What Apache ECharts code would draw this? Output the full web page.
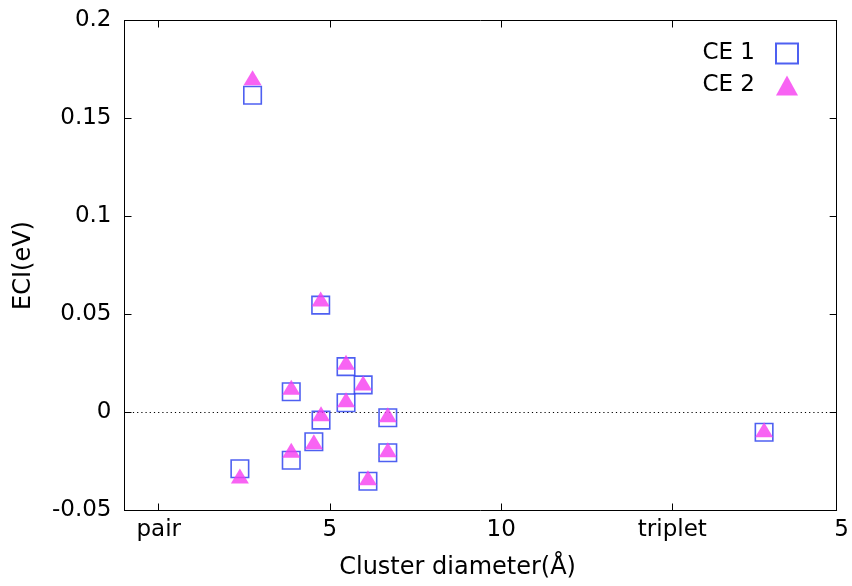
<!DOCTYPE html>
<html>
<head>
<meta charset="utf-8">
<script src="https://cdn.jsdelivr.net/npm/echarts@6/dist/echarts.min.js"></script>
<style>
  html, body { margin: 0; padding: 0; background: #fff; }
  #chart { width: 852px; height: 586px; }
</style>
</head>
<body>
<div id="chart"></div>
<script>
// Effective cluster interactions versus cluster diameter for two cluster expansions
const ce1Points = [
  [2.74, 0.1619], [2.37, -0.0287], [3.87, 0.0106], [3.87, -0.0244],
  [4.73, 0.0548], [4.74, -0.0039], [4.53, -0.0149], [5.47, 0.0234],
  [5.47, 0.0050], [5.97, 0.0141], [6.11, -0.0351], [6.69, -0.0027],
  [6.69, -0.0205], [17.68, -0.0101]
];
const ce2Points = [
  [2.74, 0.1708], [2.37, -0.0324], [3.87, 0.0129], [3.87, -0.0193],
  [4.73, 0.0579], [4.74, -0.0006], [4.53, -0.0149], [5.47, 0.0257],
  [5.47, 0.0065], [5.97, 0.0150], [6.11, -0.0333], [6.69, -0.0011],
  [6.69, -0.0190], [17.68, -0.0088]
];
const seriesNames = ['CE 1', 'CE 2'];
const xTickValues = [0, 5, 10, 15, 20];
const xTickLabels = ['pair', '5', '10', 'triplet', '5'];
const yTickLabels = ['-0.05', '0', '0.05', '0.1', '0.15', '0.2'];

const X_MIN = -1, X_MAX = 19.8;
const Y_MIN = -0.05, Y_MAX = 0.2, Y_STEP = 0.05;

const FONT = '"DejaVu Sans", "Liberation Sans", Arial, sans-serif';
const TICK_FS = 23;
const NAME_FS = 24;
const BLUE = '#2238ee';
const MAGENTA = '#f63cf0';

// label positions clamped into the axis range; the last one sits on the edge
const xLabelPos = xTickValues.map(v => Math.min(v, X_MAX));
const xTickPos = xTickValues.filter(v => v <= X_MAX);

function xLabelFormatter(val) {
  const i = xLabelPos.findIndex(p => Math.abs(p - val) < 1e-9);
  if (i < 0) return '';
  return xTickValues[i] > X_MAX ? '{edge|' + xTickLabels[i] + '}' : xTickLabels[i];
}
function yLabelFormatter(val) {
  const i = Math.round((val - Y_MIN) / Y_STEP);
  return yTickLabels[i] !== undefined ? yTickLabels[i] : '';
}

const chart = echarts.init(document.getElementById('chart'), null, { renderer: 'canvas' });

const option = {
  animation: false,
  backgroundColor: '#fff',
  textStyle: { fontFamily: FONT, color: '#000' },
  grid: { left: 124.5, right: 13, top: 20.5, bottom: 75.5, containLabel: false },
  legend: {
    data: seriesNames,
    orient: 'vertical',
    right: 48,
    top: 37,
    align: 'right',
    itemWidth: 22,
    itemHeight: 20,
    itemGap: 9,
    textStyle: { fontFamily: FONT, fontSize: TICK_FS, color: '#000', padding: [0, 16, 0, 0] }
  },
  xAxis: [
    {
      type: 'value',
      min: X_MIN,
      max: X_MAX,
      position: 'bottom',
      name: 'Cluster diameter(Å)',
      nameLocation: 'middle',
      nameGap: 45,
      nameTextStyle: { fontFamily: FONT, fontSize: NAME_FS, color: '#000', padding: [0, 46, 0, 0] },
      axisLine: { show: true, onZero: false, lineStyle: { color: '#000', width: 1 } },
      axisTick: { show: true, inside: true, length: 7, customValues: xTickPos, lineStyle: { color: '#000' } },
      axisLabel: {
        show: true,
        customValues: xLabelPos,
        formatter: xLabelFormatter,
        margin: 8,
        fontFamily: FONT,
        fontSize: TICK_FS,
        color: '#000',
        showMinLabel: true,
        showMaxLabel: true,
        rich: { edge: { fontFamily: FONT, fontSize: TICK_FS, color: '#000', padding: [0, 0, 0, 10] } }
      },
      splitLine: { show: false }
    },
    {
      type: 'value',
      min: X_MIN,
      max: X_MAX,
      position: 'top',
      axisLine: { show: true, onZero: false, lineStyle: { color: '#000', width: 1 } },
      axisTick: { show: true, inside: true, length: 7, customValues: xTickPos, lineStyle: { color: '#000' } },
      axisLabel: { show: false },
      splitLine: { show: false }
    }
  ],
  yAxis: [
    {
      type: 'value',
      min: Y_MIN,
      max: Y_MAX,
      interval: Y_STEP,
      position: 'left',
      name: 'ECI(eV)',
      nameLocation: 'middle',
      nameGap: 89,
      nameRotate: 90,
      nameTextStyle: { fontFamily: FONT, fontSize: NAME_FS, color: '#000' },
      axisLine: { show: true, onZero: false, lineStyle: { color: '#000', width: 1 } },
      axisTick: { show: true, inside: true, length: 7, lineStyle: { color: '#000' } },
      axisLabel: { formatter: yLabelFormatter, margin: 13, fontFamily: FONT, fontSize: TICK_FS, color: '#000' },
      splitLine: { show: false }
    },
    {
      type: 'value',
      min: Y_MIN,
      max: Y_MAX,
      interval: Y_STEP,
      position: 'right',
      axisLine: { show: true, onZero: false, lineStyle: { color: '#000', width: 1 } },
      axisTick: { show: true, inside: true, length: 7, lineStyle: { color: '#000' } },
      axisLabel: { show: false },
      splitLine: { show: false }
    }
  ],
  series: [
    {
      name: seriesNames[0],
      type: 'scatter',
      xAxisIndex: 0,
      yAxisIndex: 0,
      data: ce1Points,
      symbol: 'rect',
      symbolSize: 17.5,
      itemStyle: { color: 'rgba(255,255,255,0)', borderColor: BLUE, borderWidth: 1.6 },
      z: 3,
      markLine: {
        silent: true,
        symbol: 'none',
        label: { show: false },
        lineStyle: { color: '#000', width: 1, type: [1.2, 3] },
        data: [{ yAxis: 0 }],
        z: 1
      }
    },
    {
      name: seriesNames[1],
      type: 'scatter',
      xAxisIndex: 0,
      yAxisIndex: 0,
      data: ce2Points,
      symbol: 'triangle',
      symbolSize: [18, 15],
      itemStyle: { color: MAGENTA },
      z: 4
    }
  ]
};

chart.setOption(option);
</script>
</body>
</html>
